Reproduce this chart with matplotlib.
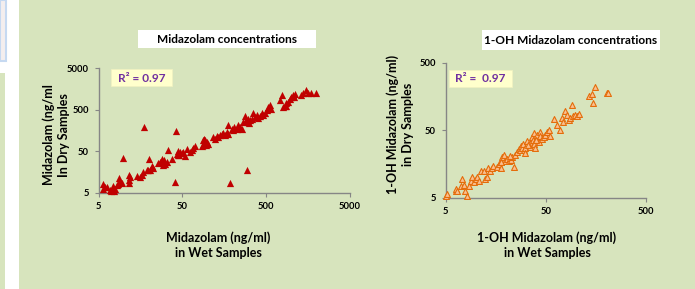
import matplotlib
matplotlib.use("Agg")
import matplotlib.pyplot as plt
from matplotlib.patches import Rectangle
from matplotlib.ticker import FixedLocator, FixedFormatter, NullLocator

plt.rcParams["font.family"] = ["Lato", "DejaVu Sans"]

# Midazolam: wet vs dry (ng/ml)
mdz_wet = [5.7, 6.0, 5.6, 6.4, 6.8, 7.5, 7.2, 7.9, 8.3, 8.9, 9.1, 8.6, 9.5, 7.7, 7.0,
           9.9, 11.4, 11.7, 11.9, 11.4, 14.3, 15.7, 16.4, 17.2, 17.5, 18.8, 19.7, 19.9,
           21.6, 22.2, 20.6, 25.9, 27.1, 28.4, 29.2, 29.7, 30.3, 31.1, 32.5, 34.1, 37.3,
           41.3, 42.1, 43.6, 44.8, 46.0, 46.9, 49.1, 51.4, 53.8, 56.3, 61.7, 64.6, 67.6,
           70.8, 85.0, 88.9, 90.6, 93.1, 97.4, 102, 87.3, 117, 122, 128, 134, 140, 147,
           154, 161, 169, 173, 177, 185, 193, 202, 206, 222, 232, 243, 254, 266, 279,
           286, 292, 305, 314, 320, 350, 366, 384, 402, 420, 440, 460, 482, 505, 528,
           553, 578, 728, 762, 797, 834, 873, 914, 957, 1002, 1048, 1097, 1318, 1378,
           1483, 1581, 1733, 1986, 93, 95.5, 29.7, 44.8, 305, 335, 873, 1070]
mdz_dry = [8.2, 6.8, 6.2, 6.6, 5.9, 7.1, 5.7, 6.2, 7.5, 10.9, 9.0, 8.2, 8.6, 5.5, 5.5,
           34.2, 13.1, 9.9, 11.9, 8.6, 12.4, 11.9, 13.1, 15.7, 191, 17.3, 17.9, 32.4,
           21.6, 20.0, 17.3, 25.0, 27.4, 31.2, 22.8, 25.0, 30.1, 24.1, 27.4, 52.3, 31.2,
           8.9, 153, 43.5, 50.5, 39.7, 47.8, 45.2, 47.8, 38.3, 57.4, 47.8, 54.3, 60.7,
           65.3, 65.3, 91.2, 100, 75.9, 83.2, 73.1, 69.1, 106, 100, 114, 110, 120, 127,
           137, 120, 145, 210, 127, 8.6, 165, 159, 191, 174, 210, 191, 174, 252, 345,
           276, 17.3, 303, 230, 276, 401, 333, 365, 320, 345, 401, 365, 416, 482, 579,
           635, 528, 840, 1107, 579, 601, 601, 765, 871, 1010, 1107, 1169, 1148, 1216,
           1462, 1216, 1216, 1262, 91, 69, 27.4, 39.7, 252, 303, 700, 980]

# 1-OH Midazolam: wet vs dry (ng/ml)
oh_wet = [5.1, 5.2, 6.3, 6.4, 6.5, 7.1, 7.3, 7.6, 7.9, 8.1, 8.5, 8.9, 9.2, 9.6, 10.0,
          10.3, 10.7, 11.2, 12.1, 12.5, 13.0, 13.2, 13.8, 14.6, 14.9, 16.4, 17.0, 17.7,
          17.9, 18.4, 19.1, 19.8, 20.6, 21.4, 21.9, 22.6, 23.1, 24.0, 24.9, 25.9, 26.9,
          27.5, 28.4, 29.0, 29.7, 30.2, 31.3, 31.3, 32.6, 33.9, 34.6, 35.2, 36.5, 37.4,
          37.9, 38.5, 39.4, 40.3, 41.0, 42.6, 43.6, 44.2, 45.9, 47.7, 49.6, 51.5, 53.6,
          54.8, 61.0, 64.8, 69.0, 72.8, 74.5, 78.6, 81.6, 84.8, 88.1, 91.5, 93.6, 98.8,
          103, 107, 134, 145, 148, 156, 204, 209, 18.0, 22.0, 33.0, 40.0]
oh_dry = [5.3, 5.7, 6.3, 6.7, 6.2, 7.5, 9.4, 7.7, 6.2, 5.3, 7.5, 8.7, 10.0, 8.4, 9.4,
          10.2, 8.7, 12.6, 12.6, 9.4, 10.0, 13.8, 12.6, 13.8, 14.9, 14.4, 15.8, 16.7,
          13.8, 19.9, 21.1, 17.7, 18.8, 17.3, 19.5, 18.2, 19.9, 14.4, 21.1, 23.7, 26.5,
          25.1, 28.8, 27.5, 31.5, 25.1, 27.5, 22.9, 34.6, 29.8, 32.3, 28.1, 39.7, 36.2,
          45.6, 31.5, 27.5, 37.5, 42.1, 33.4, 47.2, 40.6, 37.5, 39.7, 42.1, 47.2, 50.0,
          40.6, 74.0, 59.4, 51.2, 74.8, 66.7, 97.5, 84.0, 70.6, 74.8, 118.6, 81.1, 84.0,
          81.1, 85.9, 162, 173, 128.5, 223, 177, 182, 17.0, 21.0, 30.0, 36.0]

left_ticks = [5, 50, 500, 5000]
right_ticks = [5, 50, 500]

W, H = 695, 289
bg = "#d7e4bd"
grey = "#868686"

fig = plt.figure(figsize=(W / 100, H / 100), dpi=100, facecolor=bg)


def box(x0, y0, x1, y1, fc, ec="none", lw=0.0):
    # pixel box, top-left origin
    fig.add_artist(Rectangle((x0 / W, 1 - y1 / H), (x1 - x0) / W, (y1 - y0) / H,
                             transform=fig.transFigure, facecolor=fc,
                             edgecolor=ec, linewidth=lw))


# left strip (cut-off neighbour slide)
box(0, 0, 19, H, "white")
box(0, 0, 6, 61, "#f4eeee", ec="#c6d9f1", lw=1.5)
box(0, 73, 5, H, bg)


def style_axes(ax, ticks):
    ax.set_facecolor("none")
    ax.set_xscale("log")
    ax.set_yscale("log")
    ax.set_xlim(ticks[0], ticks[-1])
    ax.set_ylim(ticks[0], ticks[-1])
    for s in ["top", "right"]:
        ax.spines[s].set_visible(False)
    for s in ["left", "bottom"]:
        ax.spines[s].set_color(grey)
        ax.spines[s].set_linewidth(1.0)
    labels = [str(t) for t in ticks]
    ax.xaxis.set_major_locator(FixedLocator(ticks))
    ax.xaxis.set_major_formatter(FixedFormatter(labels))
    ax.yaxis.set_major_locator(FixedLocator(ticks))
    ax.yaxis.set_major_formatter(FixedFormatter(labels))
    ax.xaxis.set_minor_locator(NullLocator())
    ax.yaxis.set_minor_locator(NullLocator())
    ax.tick_params(length=3, width=0.8, color=grey, labelsize=6.8, pad=4)
    for lab in ax.get_xticklabels() + ax.get_yticklabels():
        lab.set_fontweight("bold")


# Left chart
ax1 = fig.add_axes([98.5 / W, 1 - 192.5 / H, 251.5 / W, 124.5 / H])
style_axes(ax1, left_ticks)
ax1.scatter(mdz_wet, mdz_dry, marker="^", s=27, color="#c00000", linewidths=0,
            clip_on=False, zorder=3)

# Right chart
ax2 = fig.add_axes([445.5 / W, 1 - 197.5 / H, 200.5 / W, 134.5 / H])
style_axes(ax2, right_ticks)
ax2.scatter(oh_wet, oh_dry, marker="^", s=18, facecolor="#fac090",
            edgecolor="#e46c0a", linewidths=0.8, clip_on=False, zorder=3)

# Title boxes
box(138, 30, 316, 48, "white")
box(482, 30, 660, 50, "white")
fig.text(227 / W, 1 - 39.5 / H, "Midazolam concentrations", ha="center",
         va="center", fontsize=8.6, fontweight="bold")
fig.text(571 / W, 1 - 40.5 / H, "1-OH Midazolam concentrations", ha="center",
         va="center", fontsize=8.6, fontweight="bold")

# R² boxes
box(111, 69, 172, 86, "#ffffcc", ec="#f2f2c0", lw=0.5)
box(449, 70, 512, 87, "#ffffcc", ec="#f2f2c0", lw=0.5)
fig.text(141.5 / W, 1 - 78 / H, "R² = 0.97", ha="center", va="center",
         fontsize=8.6, fontweight="bold", color="#7030a0")
fig.text(480.5 / W, 1 - 79 / H, "R² =  0.97", ha="center", va="center",
         fontsize=8.6, fontweight="bold", color="#7030a0")

# Axis titles
fig.text(218 / W, 1 - 245 / H, "Midazolam (ng/ml)\nin Wet Samples", ha="center",
         va="center", fontsize=9, fontweight="bold", linespacing=1.25)
fig.text(547 / W, 1 - 245 / H, "1-OH Midazolam (ng/ml)\nin Wet Samples",
         ha="center", va="center", fontsize=9, fontweight="bold", linespacing=1.25)
fig.text(56 / W, 1 - 135 / H, "Midazolam (ng/ml\nIn Dry Samples", ha="center",
         va="center", rotation=90, fontsize=9, fontweight="bold", linespacing=1.25)
fig.text(400 / W, 1 - 124 / H, "1-OH Midazolam (ng/ml)\nin Dry Samples",
         ha="center", va="center", rotation=90, fontsize=9, fontweight="bold",
         linespacing=1.25)

fig.savefig("out.png", dpi=100, facecolor=bg)
